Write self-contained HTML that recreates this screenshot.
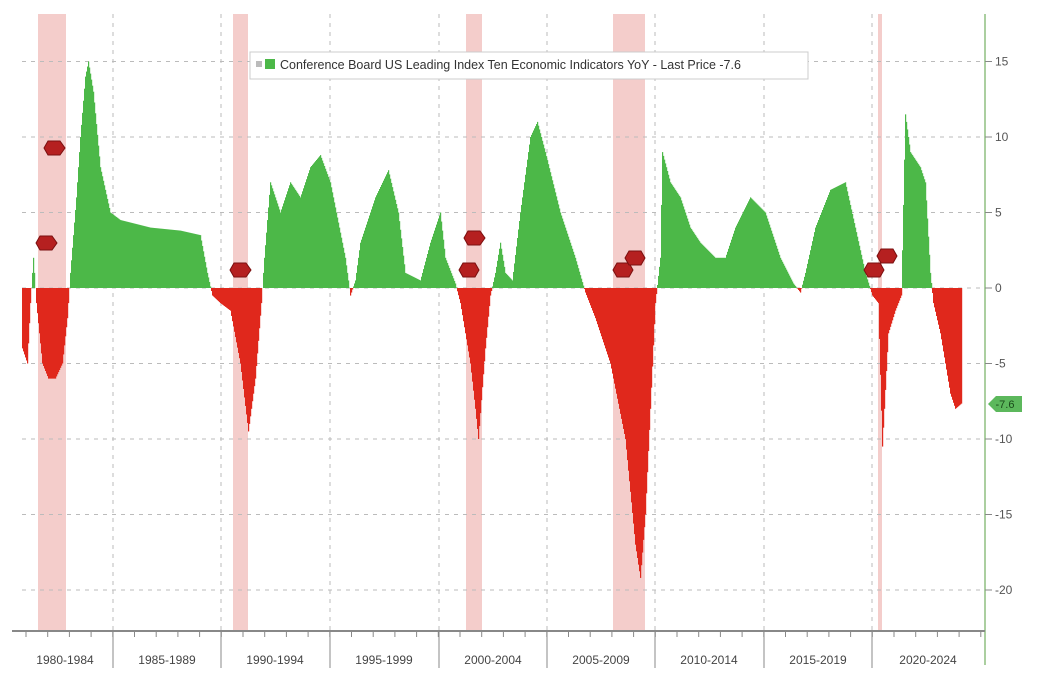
<!DOCTYPE html>
<html><head><meta charset="utf-8"><style>
body{margin:0;background:#fff;width:1050px;height:700px;overflow:hidden;font-family:"Liberation Sans",sans-serif}
</style></head><body>
<svg id="s" width="1050" height="700" xmlns="http://www.w3.org/2000/svg" style="position:absolute;left:0;top:0">
<rect width="1050" height="700" fill="#fff"/>
<g fill="#f2c4c2" opacity="0.85">
<rect x="38" y="14" width="28" height="617"/>
<rect x="233" y="14" width="15" height="617"/>
<rect x="466" y="14" width="16" height="617"/>
<rect x="613" y="14" width="32" height="617"/>
<rect x="878" y="14" width="4" height="617"/>
</g>
<g id="grid" stroke="#bbb" stroke-dasharray="4,5" stroke-width="1"></g>
<g id="bars"></g>
<g stroke="#7a1010" fill="#b52020" stroke-width="1">
<polygon points="48,141 60,141 65,148 60,155 48,155 44,148"/>
<polygon points="40,236 52,236 57,243 52,250 40,250 36,243"/>
<polygon points="234,263 246,263 251,270 246,277 234,277 230,270"/>
<polygon points="468,231 480,231 485,238 480,245 468,245 464,238"/>
<polygon points="463,263 475,263 479,270 475,277 463,277 459,270"/>
<polygon points="617,263 629,263 633,270 629,277 617,277 613,270"/>
<polygon points="629,251 641,251 645,258 641,265 629,265 625,258"/>
<polygon points="868,263 880,263 884,270 880,277 868,277 864,270"/>
<polygon points="881,249 893,249 897,256 893,263 881,263 877,256"/>
</g>
<line x1="985" y1="14" x2="985" y2="665" stroke="#8fbf80" stroke-width="1.5"/>
<line x1="12" y1="631" x2="985" y2="631" stroke="#888" stroke-width="2"/>
<g id="ticks" stroke="#888"></g>
<g id="yl" font-size="12" fill="#555"></g>
<g id="xl" font-size="12" fill="#444" text-anchor="middle"></g>
<polygon points="988,404 996,396 1022,396 1022,412 996,412" fill="#5cb85c"/>
<text x="1005" y="408" font-size="11" fill="#1a4a1a" text-anchor="middle">-7.6</text>
<rect x="250" y="52" width="558" height="27" fill="#fff" stroke="#ccc"/>
<rect x="256" y="61" width="6" height="6" fill="#bbb"/>
<rect x="265" y="59" width="10" height="10" fill="#4cb848"/>
<text x="280" y="69" font-size="12.5" fill="#333">Conference Board US Leading Index Ten Economic Indicators YoY - Last Price -7.6</text>
</svg>
<script>
var NS="http://www.w3.org/2000/svg";
function el(p,t,a,txt){var e=document.createElementNS(NS,t);for(var k in a)e.setAttribute(k,a[k]);if(txt)e.textContent=txt;document.getElementById(p).appendChild(e);}
function Y(v){return 288-v*15.1;}
[15,10,5,0,-5,-10,-15,-20].forEach(function(v){el("grid","line",{x1:22,x2:985,y1:Y(v),y2:Y(v)});el("yl","text",{x:995,y:Y(v)+4},String(v));el("ticks","line",{x1:985,x2:992,y1:Y(v),y2:Y(v)});});
var vx=[113,221,330,439,547,655,764,872];
vx.forEach(function(x){el("grid","line",{x1:x,x2:x,y1:14,y2:631});el("ticks","line",{x1:x,x2:x,y1:631,y2:668});});
var labs=["1980-1984","1985-1989","1990-1994","1995-1999","2000-2004","2005-2009","2010-2014","2015-2019","2020-2024"];
var cx=[65,167,275,384,493,601,709,818,928];
labs.forEach(function(l,i){el("xl","text",{x:cx[i],y:664},l);});
for(var x=26;x<985;x+=21.7)el("ticks","line",{x1:x,x2:x,y1:631,y2:637});
var P=[[22,-4],[27,-5],[30,-1],[33,2],[36,-1],[42,-5],[48,-6],[55,-6],[62,-5],[67,-2],[70,1],[76,6],[80,10],[85,14],[88,15],[93,13],[100,8],[110,5],[120,4.5],[150,4],[180,3.8],[200,3.5],[207,1],[212,-0.5],[220,-1],[230,-1.5],[240,-5],[248,-9.5],[255,-6],[261,-1],[264,2],[270,7],[280,5],[290,7],[300,6],[310,8],[320,8.8],[330,7],[345,2],[350,-0.5],[355,0.5],[360,3],[375,6],[388,7.8],[398,5],[405,1],[420,0.5],[430,3],[440,5],[445,2],[455,0.3],[460,-1],[470,-5],[475,-8],[478,-10],[485,-4],[490,-0.5],[495,1],[500,3],[505,1],[512,0.5],[520,5],[530,10],[537,11],[545,9],[560,5],[575,2],[585,-0.3],[595,-2],[610,-5],[625,-10],[635,-17],[640,-19.2],[645,-15],[650,-8],[655,-1],[660,2],[662,9],[670,7],[680,6],[690,4],[700,3],[715,2],[725,2],[735,4],[750,6],[765,5],[780,2],[793,0.3],[800,-0.3],[805,1],[815,4],[830,6.5],[845,7],[855,4],[865,1],[872,-0.5],[878,-1],[882,-10.5],[888,-3],[895,-1.5],[901,-0.5],[905,11.5],[910,9],[920,8],[925,7],[930,1],[933,-1],[940,-3],[945,-5],[950,-7],[955,-8],[962,-7.6]];
var h="";
for(var i=0;i<P.length-1;i++){var a=P[i],b=P[i+1];for(var x=a[0];x<b[0];x++){var v=a[1]+(b[1]-a[1])*(x-a[0])/(b[0]-a[0]);var y=Y(v),c=v>=0?"#4cb848":"#e0281c";h+='<rect x="'+x+'" y="'+Math.min(y,288)+'" width="1.2" height="'+Math.abs(y-288)+'" fill="'+c+'"/>';}}
document.getElementById("bars").innerHTML=h;
</script>
</body></html>
